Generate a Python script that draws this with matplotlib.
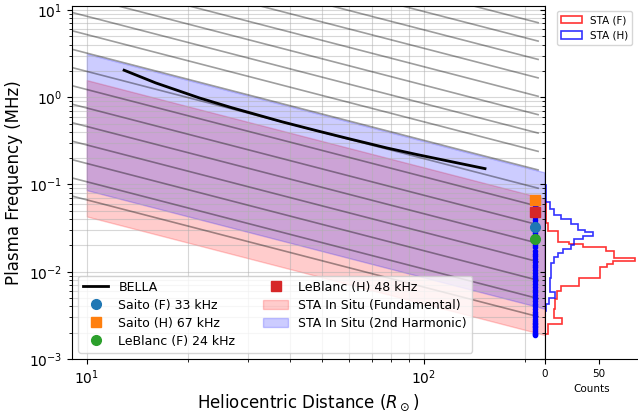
import numpy as np
import matplotlib
matplotlib.use("Agg")
from matplotlib import pyplot as plt

# BELLA curve (R_sun, MHz)
bella_r = [12.9, 16, 21.6, 27, 38, 49.1, 60, 77.7, 95, 121.9, 151.7]
bella_f = [2.04, 1.46, 0.98, 0.756, 0.522, 0.405, 0.334, 0.262, 0.221,
           0.181, 0.152]

# type III frequencies at STA (MHz)
r_sta = 213.0
saito_f = 0.033
saito_h = 0.067
leblanc_f = 0.024
leblanc_h = 0.048

# STA in situ plasma frequency range at 1 AU (MHz), scaled as 1/r
r_au = 215.0
fund_lo_1au = 0.0020
fund_hi_1au = 0.073
band_r = [10.0, 228.0]

# background 1/r lines, value at 1 AU (MHz)
guide_f_1au = [7.25, 4.46, 2.75, 1.69, 1.04, 0.64, 0.394, 0.243, 0.149,
               0.092, 0.057, 0.035, 0.0215, 0.0132, 0.0081, 0.0050, 0.0031]
guide_r = [5.0, 218.0]

# STA in situ samples (MHz)
sta_f = [0.0019, 0.00195, 0.002, 0.0021, 0.0022, 0.0023, 0.0024, 0.0025,
         0.0026, 0.0027, 0.0029, 0.0031, 0.0033, 0.0035, 0.0037, 0.004,
         0.0043, 0.0046, 0.005, 0.0054, 0.0058, 0.0062, 0.0067, 0.0072,
         0.0078, 0.0084, 0.009, 0.0097, 0.0105, 0.0113, 0.012, 0.013,
         0.014, 0.015, 0.016, 0.0175, 0.019, 0.0205, 0.022, 0.024, 0.026,
         0.028, 0.030, 0.033, 0.036, 0.039, 0.042, 0.046, 0.05, 0.054,
         0.058, 0.063, 0.068]

# histograms of STA (F) and STA (H)
hist_f_edges = [0.00192, 0.00251, 0.00299, 0.00376, 0.00490, 0.00605,
                0.00691, 0.00853, 0.0112, 0.01235, 0.01337, 0.01448,
                0.01741, 0.01901, 0.02098, 0.02172, 0.02959, 0.03656,
                0.04285, 0.0638]
hist_f_counts = [3, 16, 8, 9, 11, 15, 32, 51, 58, 63, 84, 64, 57, 35, 22,
                 12, 3, 1, 1]
hist_h_edges = [0.003565, 0.004287, 0.005025, 0.005891, 0.008531, 0.01268,
                0.01486, 0.01652, 0.01836, 0.02042, 0.02395, 0.02592,
                0.02829, 0.0304, 0.03564, 0.04065, 0.04518, 0.05297,
                0.06376, 0.07478, 0.09749]
hist_h_counts = [1, 4, 9, 5, 6, 8, 12, 17, 24, 27, 35, 45, 37, 31, 24, 15,
                 8, 5, 1, 1]

fig = plt.figure(figsize=(6.38, 4.12), dpi=100)
ax = fig.add_axes([0.1129, 0.1286, 0.7414, 0.8568])
axh = fig.add_axes([0.8542, 0.1286, 0.1450, 0.8568], sharey=ax)

gr = np.array(guide_r)
for g in guide_f_1au:
    ax.plot(gr, g * r_au / gr, color='k', alpha=0.38, lw=1.2, zorder=3)

br = np.array(band_r)
ax.fill_between(br, fund_lo_1au * r_au / br, fund_hi_1au * r_au / br,
                color='red', alpha=0.2, label='STA In Situ (Fundamental)')
ax.fill_between(br, 2 * fund_lo_1au * r_au / br, 2 * fund_hi_1au * r_au / br,
                color='blue', alpha=0.2, label='STA In Situ (2nd Harmonic)')

ax.plot(bella_r, bella_f, 'k-', lw=2, label='BELLA', zorder=4)
ax.plot(np.full(len(sta_f), r_sta), sta_f, 'b.', zorder=5)
ax.plot(r_sta, saito_f, 'o', color='tab:blue', ms=7, ls='none',
        label='Saito (F) 33 kHz', zorder=6)
ax.plot(r_sta, saito_h, 's', color='tab:orange', ms=7, ls='none',
        label='Saito (H) 67 kHz', zorder=6)
ax.plot(r_sta, leblanc_f, 'o', color='tab:green', ms=7, ls='none',
        label='LeBlanc (F) 24 kHz', zorder=6)
ax.plot(r_sta, leblanc_h, 's', color='tab:red', ms=7, ls='none',
        label='LeBlanc (H) 48 kHz', zorder=6)

ax.set_xscale('log')
ax.set_yscale('log')
ax.set_xlim(9.04, 228.6)
ax.set_ylim(1e-3, 11.1)
ax.grid(True, which='both', alpha=0.5)
ax.set_xlabel(r'Heliocentric Distance ($R_\odot$)', fontsize=12)
ax.set_ylabel('Plasma Frequency (MHz)', fontsize=12)

handles, labels = ax.get_legend_handles_labels()
order = ['BELLA', 'Saito (F) 33 kHz', 'Saito (H) 67 kHz', 'LeBlanc (F) 24 kHz',
         'LeBlanc (H) 48 kHz', 'STA In Situ (Fundamental)',
         'STA In Situ (2nd Harmonic)']
hmap = dict(zip(labels, handles))
ax.legend([hmap[k] for k in order], order, loc='lower left', ncol=2,
          fontsize=9, labelspacing=0.4, columnspacing=2.25)

fe = np.array(hist_f_edges)
he = np.array(hist_h_edges)
axh.hist(np.sqrt(fe[:-1] * fe[1:]), bins=fe, weights=hist_f_counts,
         histtype='step', orientation='horizontal', color='red', alpha=0.8,
         lw=1.2, label='STA (F)')
axh.hist(np.sqrt(he[:-1] * he[1:]), bins=he, weights=hist_h_counts,
         histtype='step', orientation='horizontal', color='blue', alpha=0.8,
         lw=1.2, label='STA (H)')
axh.set_xlim(0, 86)
axh.set_xticks([0, 50])
axh.tick_params(axis='x', labelsize=7.5)
axh.tick_params(axis='y', labelleft=False)
axh.spines['top'].set_visible(False)
axh.spines['right'].set_visible(False)
axh.set_xlabel('Counts', fontsize=7.5)
axh.legend(loc='upper right', fontsize=7.5)

fig.savefig('out.png', dpi=100)
